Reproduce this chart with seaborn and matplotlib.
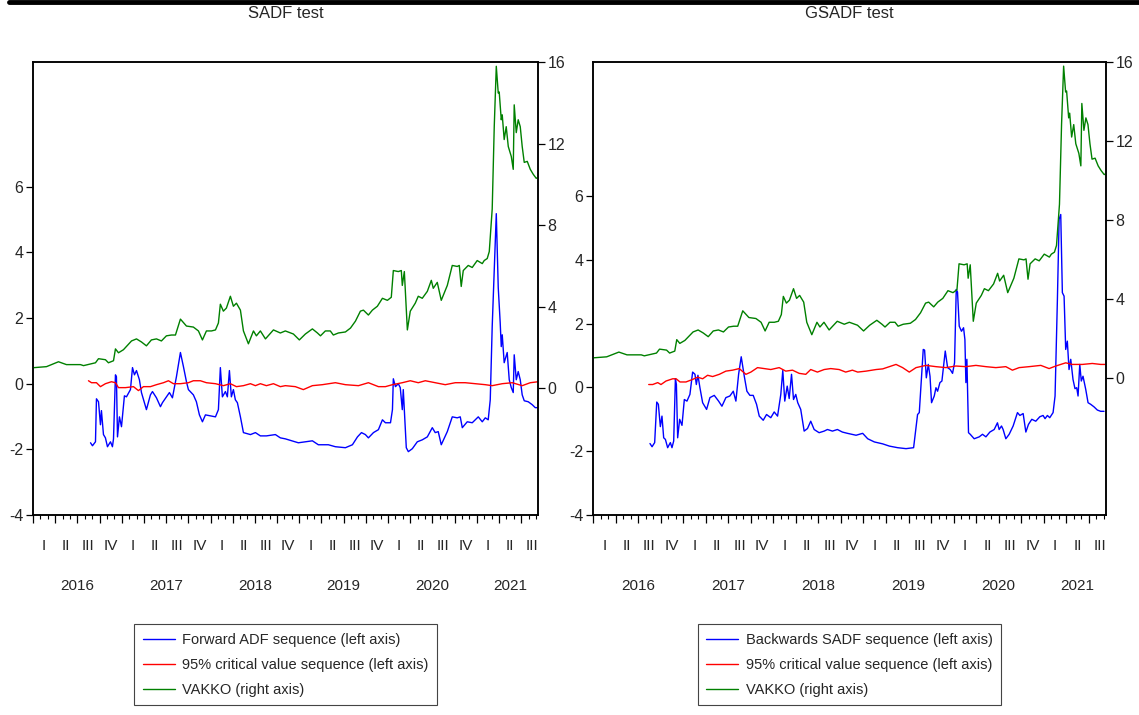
import numpy as np
import pandas as pd
import matplotlib
matplotlib.use("Agg")
import matplotlib.pyplot as plt
import seaborn as sns
from matplotlib.lines import Line2D

# ---------------- data (time in decimal years) ----------------
t_vakko = [2016.006, 2016.152, 2016.287, 2016.377, 2016.535, 2016.569, 2016.704, 2016.738, 2016.816, 2016.850,
           2016.907, 2016.929, 2016.963, 2017.019, 2017.110, 2017.166, 2017.222, 2017.278, 2017.334, 2017.391,
           2017.447, 2017.503, 2017.560, 2017.605, 2017.661, 2017.729, 2017.807, 2017.864, 2017.909, 2017.954,
           2018.011, 2018.056, 2018.089, 2018.111, 2018.145, 2018.179, 2018.224, 2018.258, 2018.292, 2018.337,
           2018.371, 2018.427, 2018.484, 2018.517, 2018.562, 2018.619, 2018.709, 2018.787, 2018.843, 2018.934,
           2019.001, 2019.069, 2019.148, 2019.205, 2019.239, 2019.294, 2019.350, 2019.384, 2019.441, 2019.520,
           2019.577, 2019.633, 2019.689, 2019.723, 2019.779, 2019.824, 2019.880, 2019.937, 2019.993, 2020.037,
           2020.060, 2020.116, 2020.150, 2020.161, 2020.184, 2020.218, 2020.251, 2020.307, 2020.341, 2020.386,
           2020.443, 2020.488, 2020.510, 2020.555, 2020.600, 2020.668, 2020.724, 2020.780, 2020.803, 2020.825,
           2020.848, 2020.904, 2020.949, 2021.005, 2021.062, 2021.084, 2021.118, 2021.141, 2021.174, 2021.197,
           2021.220, 2021.242, 2021.253, 2021.276, 2021.287, 2021.309, 2021.332, 2021.355, 2021.389, 2021.411,
           2021.422, 2021.445, 2021.467, 2021.490, 2021.512, 2021.535, 2021.569, 2021.603, 2021.636, 2021.670,
           2021.693]
vakko = [1.02, 1.07, 1.31, 1.17, 1.17, 1.12, 1.26, 1.46, 1.41, 1.26,
         1.36, 1.94, 1.75, 1.90, 2.33, 2.43, 2.28, 2.09, 2.38, 2.43,
         2.33, 2.58, 2.62, 2.62, 3.40, 3.06, 3.01, 2.82, 2.38, 2.82,
         2.82, 2.87, 3.21, 4.13, 3.79, 3.94, 4.52, 4.03, 4.18, 3.84,
         2.82, 2.19, 2.82, 2.58, 2.82, 2.43, 2.87, 2.72, 2.82, 2.67,
         2.38, 2.67, 2.92, 2.72, 2.58, 2.82, 2.82, 2.62, 2.72, 2.77,
         2.96, 3.30, 3.79, 3.84, 3.60, 3.84, 4.03, 4.42, 4.32, 4.47,
         5.78, 5.73, 5.78, 5.05, 5.73, 2.87, 3.79, 4.18, 4.52, 4.42,
         4.76, 5.30, 4.91, 5.20, 4.32, 5.05, 6.03, 5.98, 6.03, 5.00,
         5.78, 6.03, 5.93, 6.27, 6.12, 6.27, 6.37, 6.71, 8.80, 12.83,
         15.79, 14.48, 14.53, 13.17, 13.41, 12.20, 12.83, 11.86, 11.37, 10.74,
         13.90, 12.54, 13.17, 12.83, 11.86, 11.08, 11.13, 10.74, 10.50, 10.30,
         10.35]

t_fadf = [2016.648, 2016.670, 2016.704, 2016.715, 2016.738, 2016.760, 2016.771, 2016.794, 2016.816, 2016.839,
          2016.873, 2016.895, 2016.907, 2016.929, 2016.940, 2016.952, 2016.974, 2016.997, 2017.030, 2017.053,
          2017.098, 2017.121, 2017.143, 2017.166, 2017.199, 2017.222, 2017.256, 2017.278, 2017.323, 2017.346,
          2017.391, 2017.436, 2017.458, 2017.503, 2017.537, 2017.571, 2017.616, 2017.661, 2017.695, 2017.729,
          2017.751, 2017.807, 2017.841, 2017.875, 2017.909, 2017.943, 2018.000, 2018.056, 2018.089, 2018.111,
          2018.134, 2018.168, 2018.190, 2018.213, 2018.235, 2018.258, 2018.280, 2018.303, 2018.337, 2018.371,
          2018.450, 2018.506, 2018.562, 2018.630, 2018.731, 2018.787, 2018.843, 2018.990, 2019.148, 2019.215,
          2019.328, 2019.407, 2019.520, 2019.599, 2019.656, 2019.701, 2019.745, 2019.779, 2019.836, 2019.892,
          2019.937, 2019.971, 2020.028, 2020.050, 2020.060, 2020.084, 2020.116, 2020.138, 2020.161, 2020.172,
          2020.206, 2020.229, 2020.274, 2020.330, 2020.386, 2020.443, 2020.499, 2020.532, 2020.566, 2020.600,
          2020.668, 2020.724, 2020.780, 2020.814, 2020.837, 2020.893, 2020.949, 2021.017, 2021.062, 2021.096,
          2021.129, 2021.152, 2021.174, 2021.220, 2021.242, 2021.264, 2021.276, 2021.287, 2021.309, 2021.343,
          2021.366, 2021.389, 2021.411, 2021.422, 2021.445, 2021.467, 2021.490, 2021.512, 2021.535, 2021.580,
          2021.625, 2021.659, 2021.693]
fadf = [-1.80, -1.89, -1.77, -0.46, -0.55, -1.25, -0.82, -1.55, -1.65, -1.92,
        -1.77, -1.92, -1.68, 0.27, 0.21, -1.62, -1.01, -1.31, -0.37, -0.40,
        -0.18, 0.49, 0.27, 0.40, 0.12, -0.27, -0.58, -0.79, -0.34, -0.24,
        -0.43, -0.70, -0.58, -0.40, -0.27, -0.43, 0.21, 0.95, 0.52, 0.06,
        -0.18, -0.34, -0.55, -0.95, -1.16, -0.95, -0.98, -1.01, -0.79, 0.49,
        -0.40, -0.24, -0.40, 0.40, -0.40, -0.18, -0.49, -0.58, -1.01, -1.49,
        -1.55, -1.49, -1.59, -1.59, -1.55, -1.65, -1.68, -1.80, -1.74, -1.86,
        -1.86, -1.92, -1.95, -1.86, -1.62, -1.49, -1.55, -1.65, -1.49, -1.40,
        -1.10, -1.19, -1.19, -0.79, 0.15, -0.09, 0.00, -0.12, -0.79, -0.18,
        -1.95, -2.07, -1.98, -1.77, -1.71, -1.62, -1.34, -1.49, -1.46, -1.86,
        -1.46, -1.01, -1.04, -1.01, -1.34, -1.16, -1.19, -1.01, -1.16, -1.04,
        -1.10, -0.49, 1.74, 5.18, 2.93, 1.86, 1.13, 1.49, 0.64, 0.95,
        0.12, -0.12, -0.27, 0.88, 0.12, 0.37, 0.12, -0.34, -0.52, -0.55,
        -0.64, -0.73, -0.73]

t_cv_sadf = [2016.625, 2016.659, 2016.715, 2016.760, 2016.816, 2016.884, 2016.929, 2016.963, 2017.042, 2017.132,
             2017.188, 2017.244, 2017.323, 2017.391, 2017.470, 2017.526, 2017.582, 2017.661, 2017.751, 2017.807,
             2017.886, 2017.954, 2018.056, 2018.145, 2018.224, 2018.292, 2018.371, 2018.450, 2018.506, 2018.562,
             2018.630, 2018.709, 2018.787, 2018.843, 2018.956, 2019.046, 2019.148, 2019.260, 2019.407, 2019.520,
             2019.667, 2019.779, 2019.892, 2019.971, 2020.050, 2020.161, 2020.251, 2020.341, 2020.420, 2020.532,
             2020.645, 2020.758, 2020.870, 2020.983, 2021.096, 2021.174, 2021.287, 2021.400, 2021.512, 2021.603,
             2021.693]
cv_sadf = [0.09, 0.03, 0.03, -0.09, 0.00, 0.06, 0.03, -0.12, -0.12, -0.09,
           -0.21, -0.09, -0.09, -0.03, 0.03, 0.09, 0.00, 0.00, 0.03, 0.09,
           0.09, 0.03, 0.00, -0.06, 0.00, -0.09, -0.06, 0.00, -0.06, 0.00,
           -0.06, 0.00, -0.09, -0.06, -0.09, -0.18, -0.06, -0.03, 0.03, -0.03,
           -0.06, 0.03, -0.09, -0.09, -0.03, 0.03, 0.09, 0.03, 0.09, 0.03,
           -0.03, 0.03, 0.03, 0.00, -0.03, -0.06, 0.00, 0.03, -0.06, 0.03,
           0.06]

t_bsadf = [2016.632, 2016.655, 2016.684, 2016.707, 2016.725, 2016.747, 2016.765, 2016.784, 2016.803, 2016.828,
           2016.858, 2016.876, 2016.895, 2016.914, 2016.925, 2016.939, 2016.961, 2016.987, 2017.013, 2017.042,
           2017.075, 2017.105, 2017.131, 2017.146, 2017.164, 2017.186, 2017.216, 2017.260, 2017.297, 2017.345,
           2017.393, 2017.430, 2017.474, 2017.518, 2017.556, 2017.585, 2017.615, 2017.644, 2017.678, 2017.707,
           2017.740, 2017.777, 2017.814, 2017.844, 2017.888, 2017.925, 2017.972, 2018.010, 2018.047, 2018.083,
           2018.105, 2018.127, 2018.154, 2018.176, 2018.202, 2018.224, 2018.249, 2018.271, 2018.304, 2018.342,
           2018.379, 2018.415, 2018.453, 2018.508, 2018.564, 2018.600, 2018.656, 2018.711, 2018.766, 2018.822,
           2018.918, 2018.991, 2019.047, 2019.121, 2019.213, 2019.287, 2019.379, 2019.472, 2019.556, 2019.600,
           2019.619, 2019.663, 2019.678, 2019.697, 2019.719, 2019.738, 2019.755, 2019.785, 2019.804, 2019.822,
           2019.848, 2019.870, 2019.907, 2019.933, 2019.962, 2019.988, 2020.010, 2020.029, 2020.043, 2020.062,
           2020.087, 2020.110, 2020.125, 2020.136, 2020.147, 2020.165, 2020.184, 2020.228, 2020.284, 2020.320,
           2020.358, 2020.402, 2020.450, 2020.486, 2020.505, 2020.531, 2020.549, 2020.579, 2020.616, 2020.660,
           2020.708, 2020.735, 2020.771, 2020.801, 2020.830, 2020.867, 2020.911, 2020.956, 2020.992, 2021.014,
           2021.040, 2021.066, 2021.103, 2021.125, 2021.151, 2021.170, 2021.188, 2021.206, 2021.225, 2021.243,
           2021.261, 2021.280, 2021.299, 2021.324, 2021.346, 2021.365, 2021.380, 2021.399, 2021.416, 2021.435,
           2021.465, 2021.491, 2021.520, 2021.557, 2021.594, 2021.631, 2021.668]
bsadf = [-1.76, -1.86, -1.73, -0.46, -0.53, -1.23, -0.90, -1.58, -1.63, -1.89,
         -1.73, -1.89, -1.68, 0.27, 0.09, -1.58, -1.00, -1.19, -0.38, -0.43,
         -0.22, 0.48, 0.41, 0.09, 0.38, -0.01, -0.48, -0.69, -0.32, -0.25,
         -0.43, -0.59, -0.32, -0.27, -0.12, -0.43, 0.41, 0.96, 0.35, -0.12,
         -0.25, -0.25, -0.53, -0.90, -1.03, -0.85, -0.95, -0.77, -0.90, -0.22,
         0.53, -0.43, 0.04, -0.35, 0.41, -0.38, -0.22, -0.48, -0.69, -1.37,
         -1.29, -1.06, -1.32, -1.42, -1.37, -1.32, -1.37, -1.32, -1.40, -1.44,
         -1.50, -1.44, -1.61, -1.71, -1.77, -1.84, -1.89, -1.92, -1.89, -0.85,
         -0.79, 1.19, 1.17, 0.30, 0.72, 0.35, -0.48, -0.27, -0.01, -0.12,
         0.15, 0.20, 1.14, 0.62, 0.56, 0.44, 0.77, 3.07, 2.99, 1.92,
         1.76, 1.87, 1.50, 0.15, 0.88, -1.42, -1.47, -1.61, -1.55, -1.47,
         -1.55, -1.40, -1.32, -1.11, -1.32, -1.21, -1.32, -1.61, -1.47, -1.21,
         -0.79, -0.88, -0.82, -1.40, -1.16, -1.00, -1.06, -0.92, -0.88, -0.98,
         -0.88, -0.95, -0.79, -0.27, 2.76, 5.27, 5.42, 2.97, 2.86, 1.19,
         1.45, 0.56, 0.88, 0.25, -0.04, -0.01, -0.27, 0.72, 0.20, 0.35,
         -0.06, -0.48, -0.53, -0.61, -0.71, -0.75, -0.75]

t_cv_gsadf = [2016.618, 2016.662, 2016.718, 2016.754, 2016.810, 2016.884, 2016.922, 2016.965, 2017.031, 2017.105,
              2017.161, 2017.216, 2017.271, 2017.327, 2017.401, 2017.474, 2017.548, 2017.622, 2017.696, 2017.751,
              2017.825, 2017.899, 2017.972, 2018.065, 2018.138, 2018.213, 2018.287, 2018.360, 2018.415, 2018.489,
              2018.564, 2018.637, 2018.730, 2018.803, 2018.877, 2018.936, 2019.029, 2019.140, 2019.213, 2019.287,
              2019.361, 2019.434, 2019.508, 2019.583, 2019.693, 2019.804, 2019.915, 2020.025, 2020.136, 2020.247,
              2020.358, 2020.468, 2020.579, 2020.652, 2020.727, 2020.837, 2020.967, 2021.059, 2021.133, 2021.243,
              2021.317, 2021.428, 2021.538, 2021.631, 2021.680]
cv_gsadf = [0.09, 0.09, 0.15, 0.09, 0.20, 0.27, 0.27, 0.17, 0.17, 0.25,
            0.32, 0.27, 0.38, 0.34, 0.41, 0.51, 0.54, 0.59, 0.41, 0.48,
            0.62, 0.59, 0.56, 0.62, 0.51, 0.54, 0.44, 0.41, 0.56, 0.48,
            0.56, 0.59, 0.56, 0.48, 0.54, 0.48, 0.51, 0.56, 0.58, 0.65,
            0.72, 0.62, 0.48, 0.62, 0.69, 0.65, 0.62, 0.67, 0.65, 0.69,
            0.65, 0.62, 0.65, 0.54, 0.62, 0.65, 0.69, 0.59, 0.67, 0.77,
            0.72, 0.72, 0.75, 0.72, 0.72]

years = [2016, 2017, 2018, 2019, 2020, 2021]
quarters = ["I", "II", "III", "IV"]
left_ticks = [-4, -2, 0, 2, 4, 6]
right_ticks = [0, 4, 8, 12, 16]
titles = ["SADF test", "GSADF test"]
labels_sadf = ["Forward ADF sequence (left axis)", "95% critical value sequence (left axis)", "VAKKO (right axis)"]
labels_gsadf = ["Backwards SADF sequence (left axis)", "95% critical value sequence (left axis)", "VAKKO (right axis)"]

# ---------------- style ----------------
sns.set_theme(style="white")
plt.rcParams["font.family"] = ["Liberation Sans", "DejaVu Sans"]
plt.rcParams["axes.unicode_minus"] = False

BLUE, RED, GREEN = "#0000ff", "#ff0000", "#008000"
W, H = 1139, 715
fig = plt.figure(figsize=(W / 100, H / 100), dpi=100)
fig.patch.set_facecolor("white")

# top rule
fig.add_artist(Line2D([9 / W, 1.0], [1 - 2 / H, 1 - 2 / H], color="black", lw=3.5, transform=fig.transFigure))

XMIN, XMAX = 2016.0, 2021.69
YTICK_FS = 11.5
XLAB_FS = 11


def panel(px0, px1, title, t_b, v_b, t_r, v_r, ylim_l, ylim_r, labels):
    rect = [px0 / W, 1 - 515 / H, (px1 - px0) / W, (515 - 62) / H]
    ax = fig.add_axes(rect)
    ax.set_facecolor("none")
    df_b = pd.DataFrame({"t": t_b, "v": v_b})
    df_r = pd.DataFrame({"t": t_r, "v": v_r})
    df_g = pd.DataFrame({"t": t_vakko, "v": vakko})
    sns.lineplot(data=df_b, x="t", y="v", ax=ax, color=BLUE, lw=1.0, estimator=None, sort=False, legend=False)
    sns.lineplot(data=df_r, x="t", y="v", ax=ax, color=RED, lw=1.0, estimator=None, sort=False, legend=False)
    ax2 = ax.twinx()
    sns.lineplot(data=df_g, x="t", y="v", ax=ax2, color=GREEN, lw=1.0, estimator=None, sort=False, legend=False)

    ax.set_xlim(XMIN, XMAX)
    ax.set_ylim(*ylim_l)
    ax2.set_ylim(*ylim_r)
    ax.set_yticks(left_ticks)
    ax2.set_yticks(right_ticks)
    ax.set_xlabel("")
    ax.set_ylabel("")
    ax2.set_ylabel("")

    # x ticks: quarters (major) and months (minor)
    qb = [y + k / 4 for y in range(2016, 2022) for k in range(4) if y + k / 4 <= XMAX]
    mb = [y + k / 12 for y in range(2016, 2022) for k in range(12) if y + k / 12 <= XMAX]
    ax.set_xticks(qb)
    ax.set_xticks(mb, minor=True)
    ax.set_xticklabels([])
    ax.tick_params(axis="x", which="major", direction="out", length=6, width=0.9, color="black", bottom=True)
    ax.tick_params(axis="x", which="minor", direction="out", length=3, width=0.8, color="black", bottom=True)
    ax.tick_params(axis="y", which="major", direction="out", length=5, width=0.9, color="black",
                   labelsize=YTICK_FS, left=True, pad=2)
    ax2.tick_params(axis="y", which="major", direction="out", length=5, width=0.9, color="black",
                    labelsize=YTICK_FS, right=True, pad=2)

    for a in (ax, ax2):
        for s in a.spines.values():
            s.set_visible(True)
            s.set_color("black")
            s.set_linewidth(1.1)

    # quarter and year labels
    for y in years:
        vis = []
        for qi, q in enumerate(quarters):
            xc = y + (qi + 0.5) / 4
            if xc < XMAX:
                vis.append(xc)
                ax.annotate(q, xy=(xc, 0), xycoords=("data", "axes fraction"), xytext=(0, -22),
                            textcoords="offset points", ha="center", va="center", fontsize=XLAB_FS)
        ax.annotate(str(y), xy=(np.mean(vis), 0), xycoords=("data", "axes fraction"), xytext=(0, -51),
                    textcoords="offset points", ha="center", va="center", fontsize=XLAB_FS)

    cx = (px0 + px1) / 2 / W
    fig.text(cx, 1 - 14 / H, title, ha="center", va="center", fontsize=12)

    handles = [Line2D([], [], color=BLUE, lw=1.0), Line2D([], [], color=RED, lw=1.0),
               Line2D([], [], color=GREEN, lw=1.0)]
    leg = fig.legend(handles, labels, loc="upper center", bbox_to_anchor=(cx, 1 - 624 / H),
                     bbox_transform=fig.transFigure, frameon=True, fancybox=False, shadow=False,
                     fontsize=10.5, handlelength=2.2, handletextpad=0.5, borderpad=0.6,
                     labelspacing=0.75, framealpha=1, borderaxespad=0)
    leg.get_frame().set_edgecolor("#444444")
    leg.get_frame().set_linewidth(0.8)
    return ax, ax2


panel(33, 538, titles[0], t_fadf, fadf, t_cv_sadf, cv_sadf, (-4, 9.8), (-6.2, 16), labels_sadf)
panel(593, 1106, titles[1], t_bsadf, bsadf, t_cv_gsadf, cv_gsadf, (-4, 10.2), (-6.94, 16), labels_gsadf)

fig.savefig("out.png", dpi=100, facecolor="white")
